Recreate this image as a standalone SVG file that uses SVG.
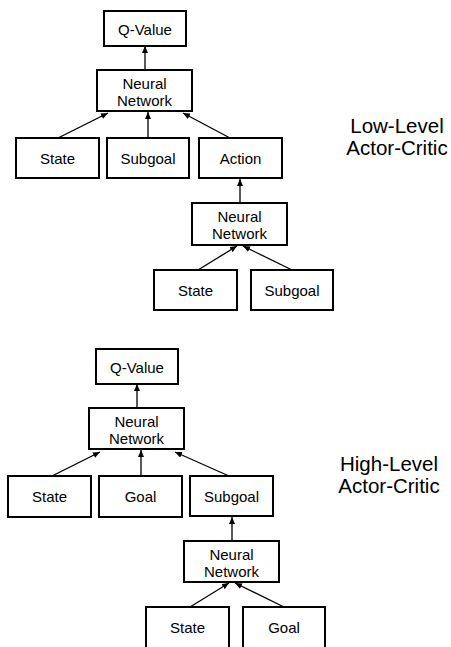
<svg xmlns="http://www.w3.org/2000/svg" width="451" height="647" viewBox="0 0 451 647">
<style>
.box{fill:#fff;stroke:#000;stroke-width:2}
.t{font-family:"Liberation Sans",Arial,sans-serif;font-size:15px;fill:#000;text-anchor:middle}
.lbl{font-family:"Liberation Sans",Arial,sans-serif;font-size:20.5px;fill:#000;text-anchor:middle}
.c{stroke:#000;stroke-width:1.3;fill:none;marker-end:url(#ah)}
</style>
<defs>
<marker id="ah" markerUnits="userSpaceOnUse" markerWidth="7" markerHeight="6" refX="7" refY="3" orient="auto">
<path d="M0,0 L7,3 L0,6 z" fill="#000"/>
</marker>
</defs>
<rect width="451" height="647" fill="#fff"/>
<g id="connectors">
<line class="c" x1="145" y1="70" x2="145" y2="46"/>
<line class="c" x1="58" y1="138" x2="108" y2="113"/>
<line class="c" x1="148" y1="138" x2="148" y2="112"/>
<line class="c" x1="230" y1="138" x2="183" y2="113"/>
<line class="c" x1="240" y1="203" x2="240" y2="179"/>
<line class="c" x1="198" y1="270" x2="237" y2="246"/>
<line class="c" x1="292" y1="270" x2="243" y2="246"/>
<line class="c" x1="137" y1="408" x2="137" y2="384"/>
<line class="c" x1="52" y1="476" x2="100" y2="452"/>
<line class="c" x1="141" y1="476" x2="141" y2="450"/>
<line class="c" x1="229" y1="476" x2="175" y2="452"/>
<line class="c" x1="232" y1="541" x2="232" y2="517"/>
<line class="c" x1="190" y1="607" x2="229" y2="583"/>
<line class="c" x1="284" y1="607" x2="235" y2="583"/>
</g>
<g id="ll-qvalue"><rect class="box" x="104" y="11" width="82" height="35"/><text class="t" x="145" y="34.5">Q-Value</text></g>
<g id="ll-nn-top"><rect class="box" x="97" y="70" width="95" height="41"/><text class="t" x="144.5" y="88.5">Neural</text><text class="t" x="144.5" y="106">Network</text></g>
<g id="ll-state-top"><rect class="box" x="16" y="138" width="83" height="40"/><text class="t" x="57.5" y="164">State</text></g>
<g id="ll-subgoal-top"><rect class="box" x="107" y="138" width="82" height="40"/><text class="t" x="148" y="164">Subgoal</text></g>
<g id="ll-action"><rect class="box" x="199" y="138" width="83" height="40"/><text class="t" x="240.5" y="164">Action</text></g>
<g id="ll-nn-bottom"><rect class="box" x="192" y="203" width="95" height="42"/><text class="t" x="239.5" y="221.5">Neural</text><text class="t" x="239.5" y="239">Network</text></g>
<g id="ll-state-bottom"><rect class="box" x="154" y="270" width="83" height="40"/><text class="t" x="195.5" y="295.5">State</text></g>
<g id="ll-subgoal-bottom"><rect class="box" x="251" y="270" width="82" height="40"/><text class="t" x="292" y="295.5">Subgoal</text></g>
<g id="ll-label"><text class="lbl" x="397" y="133">Low-Level</text><text class="lbl" x="397" y="155">Actor-Critic</text></g>
<g id="hl-qvalue"><rect class="box" x="96" y="349" width="82" height="35"/><text class="t" x="137" y="372.5">Q-Value</text></g>
<g id="hl-nn-top"><rect class="box" x="89" y="408" width="95" height="41"/><text class="t" x="136.5" y="426.5">Neural</text><text class="t" x="136.5" y="444">Network</text></g>
<g id="hl-state-top"><rect class="box" x="8" y="476" width="83" height="41"/><text class="t" x="49.5" y="502">State</text></g>
<g id="hl-goal-top"><rect class="box" x="99" y="476" width="83" height="41"/><text class="t" x="140.5" y="502">Goal</text></g>
<g id="hl-subgoal"><rect class="box" x="190" y="476" width="83" height="40"/><text class="t" x="231.5" y="502">Subgoal</text></g>
<g id="hl-nn-bottom"><rect class="box" x="184" y="541" width="95" height="41"/><text class="t" x="231.5" y="559.5">Neural</text><text class="t" x="231.5" y="577">Network</text></g>
<g id="hl-state-bottom"><rect class="box" x="146" y="607" width="83" height="42"/><text class="t" x="187.5" y="633">State</text></g>
<g id="hl-goal-bottom"><rect class="box" x="243" y="607" width="82" height="42"/><text class="t" x="284" y="633">Goal</text></g>
<g id="hl-label"><text class="lbl" x="389" y="471">High-Level</text><text class="lbl" x="389" y="493">Actor-Critic</text></g>
</svg>
